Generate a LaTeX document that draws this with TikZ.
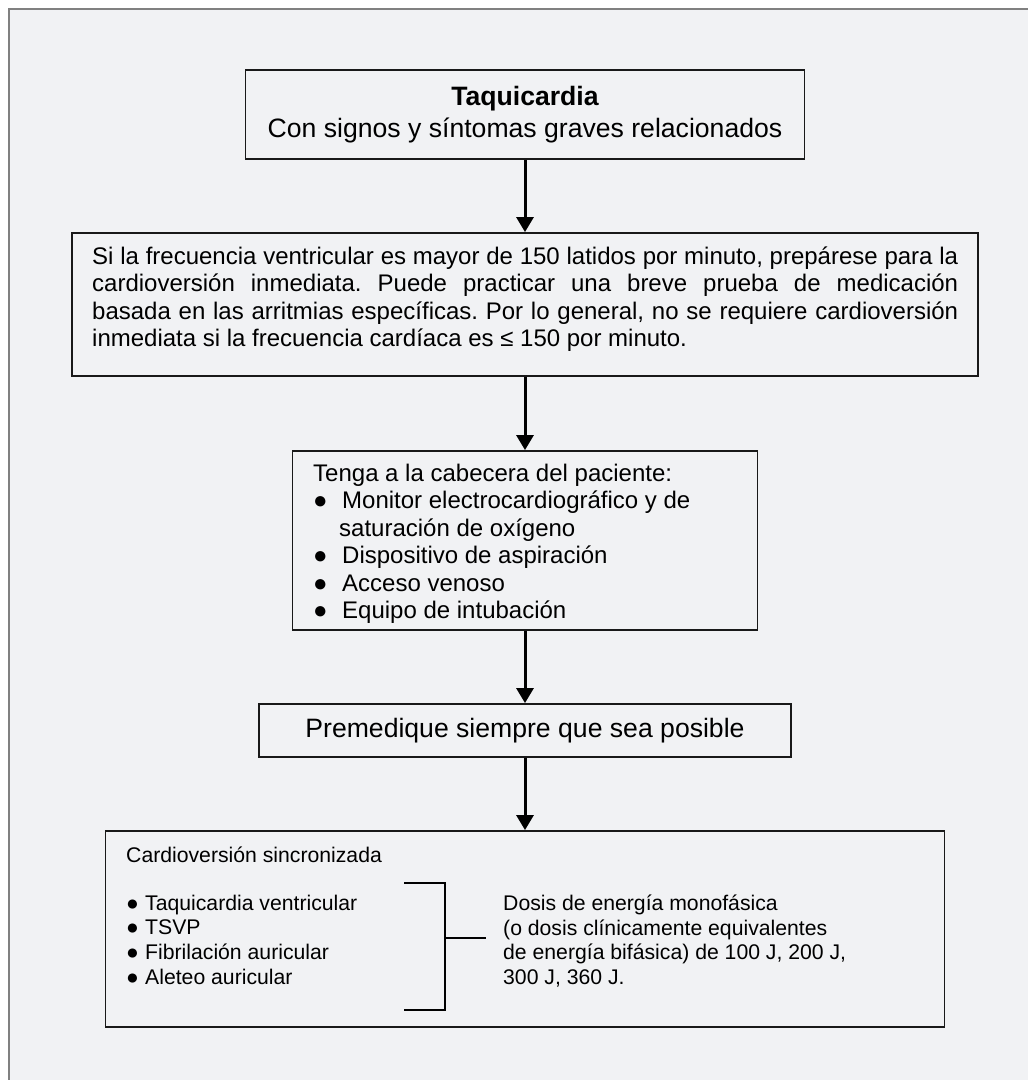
\documentclass[tikz,border=0pt]{standalone}
\usepackage{fontspec}
\setmainfont{Liberation Sans}
\usepackage{tikz}
\usetikzlibrary{arrows.meta, positioning}
\definecolor{fondogris}{RGB}{241,242,244}
\definecolor{bordegris}{RGB}{128,128,128}
\newcommand{\fs}[2]{\fontsize{#1}{#2}\selectfont}
\newcommand{\bul}[1]{\makebox[#1][l]{●}}
\frenchspacing

\begin{document}
\begin{tikzpicture}[
  x=1pt, y=-1pt,
  caja/.style={draw=black!90, line width=1.8pt, fill=fondogris, inner sep=0pt, align=center},
  texto/.style={inner sep=0pt, anchor=north west, align=left},
  flecha/.style={line width=3pt, -{Triangle[width=17pt,length=15pt]}},
  corchete/.style={line width=2pt}
]

% Page
\useasboundingbox (0,0) rectangle (1028,1080);
\fill[white] (0,0) rectangle (1028,1080);
\clip (0,0) rectangle (1028,1080);
\draw[bordegris, line width=1.5pt, fill=fondogris] (9,9) rectangle (1060,1110);

% Boxes
\node[caja, minimum width=559pt, minimum height=89pt, font=\fs{26.6}{32}] (taq) at (525,114.5) {{\bfseries Taquicardia}\\Con signos y síntomas graves relacionados};
\node[caja, minimum width=906pt, minimum height=143pt] (frec) at (525,304.5) {};
\node[caja, minimum width=465pt, minimum height=179pt] (cab) at (525,540.5) {};
\node[caja, minimum width=532pt, minimum height=53pt, font=\fs{26.6}{32}] (prem) at (525,730.5) {Premedique siempre que sea posible};
\node[caja, minimum width=839pt, minimum height=196pt] (cardio) at (525,929) {};

% Texts
\node[texto, text width=866pt, align=justify, font=\fs{24}{27.5}] (frectxt) at (92,246.5) {\tolerance=9999 Si la frecuencia ventricular es mayor de 150 latidos por minuto, prepárese para la\linebreak cardioversión inmediata. Puede practicar una breve prueba de medicación\linebreak basada en las arritmias específicas. Por lo general, no se requiere cardioversión\linebreak inmediata si la frecuencia cardíaca es ≤ 150 por minuto.};
\node[texto, font=\fs{24}{27.5}] (cabtxt) at (313,463.5) {Tenga a la cabecera del paciente:\\
  \bul{29pt}Monitor electrocardiográfico y de\\
  \hspace*{26pt}saturación de oxígeno\\
  \bul{29pt}Dispositivo de aspiración\\
  \bul{29pt}Acceso venoso\\
  \bul{29pt}Equipo de intubación};
\node[inner sep=0pt, anchor=base west, font=\fs{21.2}{24.7}] (cvtit) at (126,862) {Cardioversión sincronizada};
\node[texto, font=\fs{21.2}{24.7}] (ritmos) at (126,894.5) {\bul{19pt}Taquicardia ventricular\\
  \bul{19pt}TSVP\\
  \bul{19pt}Fibrilación auricular\\
  \bul{19pt}Aleteo auricular};
\node[texto, font=\fs{21.2}{24.7}] (dosis) at (503,894.5) {Dosis de energía monofásica\\
  (o dosis clínicamente equivalentes\\
  de energía bifásica) de 100 J, 200 J,\\
  300 J, 360 J.};

% Bracket
\draw[corchete] (404,883) -- (445,883) -- (445,1010) -- (404,1010);
\draw[corchete] (445,937.5) -- (486,937.5);

% Arrows
\draw[flecha] (taq) -- (frec);
\draw[flecha] (frec) -- (cab);
\draw[flecha] (cab) -- (prem);
\draw[flecha] (prem) -- (cardio);

\end{tikzpicture}
\end{document}
